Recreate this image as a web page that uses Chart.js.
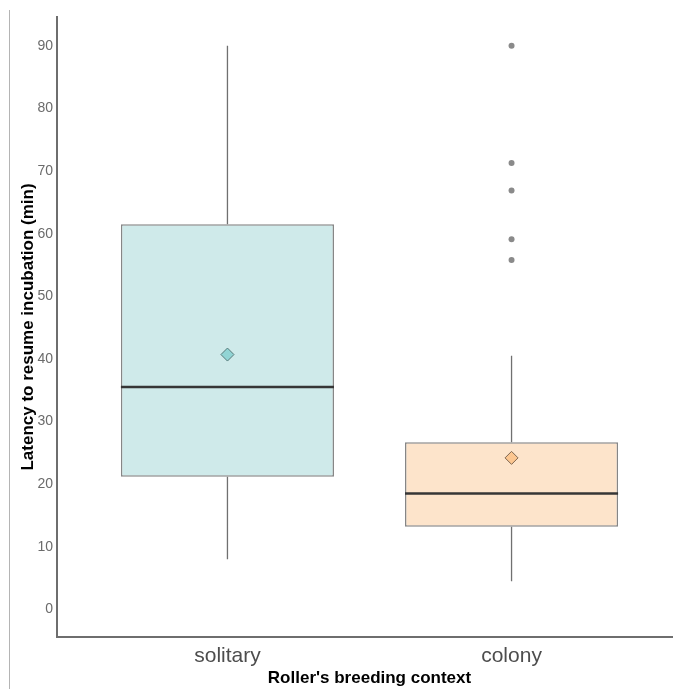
<!DOCTYPE html>
<html>
<head>
<meta charset="utf-8">
<script src="https://cdn.jsdelivr.net/npm/chart.js@4/dist/chart.umd.min.js"></script>
<style>
  html, body { margin: 0; padding: 0; background: #fff; overflow: hidden; }
  #wrap { position: relative; width: 673px; height: 689px; overflow: hidden; }
  #frame { position: absolute; left: 9px; top: 10px; width: 0; height: 679px; border-left: 1px solid #b4b4b4; }
  canvas { position: absolute; left: 0; top: 0; }
</style>
</head>
<body>
<div id="wrap">
  <canvas id="chart" width="690" height="689"></canvas>
  <div id="frame"></div>
</div>
<script>
// Latency (min) to resume incubation by breeding context
const groups = ['solitary', 'colony'];
const q1 = [21.2, 13.2];
const q3 = [61.5, 26.7];
const medians = [35.5, 18.5];
const means = [40.7, 24.2];
const whiskerLow = [8.0, 4.5];
const whiskerHigh = [90.0, 40.5];
const colonyOutliers = [55.8, 59.1, 66.9, 71.3, 90.0];
const yTicks = [0, 10, 20, 30, 40, 50, 60, 70, 80, 90];

const boxFill = ['#cfeaea', '#fde4cb'];
const meanFill = ['#91d4d4', '#fcc690'];
const meanEdge = ['#567a7a', '#7f6650'];

const boxData = groups.map((g, i) => ({ x: i + 1, y: [q1[i], q3[i]] }));

// whisker segments, separated by gaps
const whiskerData = [];
groups.forEach((g, i) => {
  whiskerData.push({ x: i + 1, y: q3[i] }, { x: i + 1, y: whiskerHigh[i] }, { x: i + 1, y: null });
  whiskerData.push({ x: i + 1, y: q1[i] }, { x: i + 1, y: whiskerLow[i] }, { x: i + 1, y: null });
});

const outlierData = colonyOutliers.map(v => ({ x: 2, y: v }));
const meanData = means.map((v, i) => ({ x: i + 1, y: v }));

// median bar across each box, using the box element geometry
const medianLines = {
  id: 'medianLines',
  afterDatasetDraw(chart, args) {
    if (args.index !== 0) return;
    const ctx = chart.ctx;
    const yScale = chart.scales.y;
    args.meta.data.forEach((bar, i) => {
      const py = yScale.getPixelForValue(medians[i]);
      ctx.save();
      ctx.strokeStyle = '#363636';
      ctx.lineWidth = 2.5;
      ctx.beginPath();
      ctx.moveTo(bar.x - bar.width / 2, py);
      ctx.lineTo(bar.x + bar.width / 2, py);
      ctx.stroke();
      ctx.restore();
    });
  }
};

new Chart(document.getElementById('chart'), {
  type: 'bar',
  data: {
    datasets: [
      {
        type: 'bar',
        data: boxData,
        backgroundColor: boxFill,
        borderColor: '#868686',
        borderWidth: 1.5,
        borderSkipped: false,
        categoryPercentage: 1,
        barPercentage: 0.75,
        order: 2
      },
      {
        type: 'line',
        data: whiskerData,
        borderColor: '#707070',
        borderWidth: 1.3,
        pointRadius: 0,
        spanGaps: false,
        fill: false,
        order: 3
      },
      {
        type: 'scatter',
        data: outlierData,
        pointRadius: 3,
        pointBackgroundColor: '#8a8a8a',
        pointBorderWidth: 0,
        order: 1
      },
      {
        type: 'scatter',
        data: meanData,
        pointStyle: 'rectRot',
        pointRadius: 6.5,
        pointBackgroundColor: meanFill,
        pointBorderColor: meanEdge,
        pointBorderWidth: 1,
        order: 0
      }
    ]
  },
  options: {
    responsive: false,
    devicePixelRatio: 1,
    animation: false,
    layout: { padding: { top: 17, left: 0, right: 8, bottom: 0 } },
    plugins: { legend: { display: false }, tooltip: { enabled: false } },
    scales: {
      x: {
        type: 'linear',
        offset: false,
        min: 0.4,
        max: 2.6,
        afterBuildTicks: s => { s.ticks = groups.map((g, i) => ({ value: i + 1 })); },
        afterFit: s => { s.height = 52; },
        grid: { display: false, drawTicks: false },
        border: { display: true, color: '#6e6e6e', width: 2 },
        ticks: {
          callback: v => groups[v - 1],
          color: '#4d4d4d',
          font: { family: 'Liberation Sans', size: 21 },
          padding: 7,
          maxRotation: 0
        },
        title: {
          display: true,
          text: "Roller's breeding context",
          color: '#000',
          font: { family: 'Liberation Sans', size: 17, weight: 'bold' },
          padding: { top: 0, bottom: 0 }
        }
      },
      y: {
        type: 'linear',
        min: -4.4,
        max: 94.6,
        afterBuildTicks: s => { s.ticks = yTicks.map(v => ({ value: v })); },
        afterFit: s => { s.width = 57; },
        grid: { display: false, drawTicks: false },
        border: { display: true, color: '#6e6e6e', width: 2 },
        ticks: {
          color: '#6b6b6b',
          font: { family: 'Liberation Sans', size: 14 },
          padding: 4
        },
        title: {
          display: true,
          text: 'Latency to resume incubation (min)',
          color: '#000',
          font: { family: 'Liberation Sans', size: 17, weight: 'bold' },
          padding: { top: 18, bottom: 0 }
        }
      }
    }
  },
  plugins: [medianLines]
});
</script>
</body>
</html>
